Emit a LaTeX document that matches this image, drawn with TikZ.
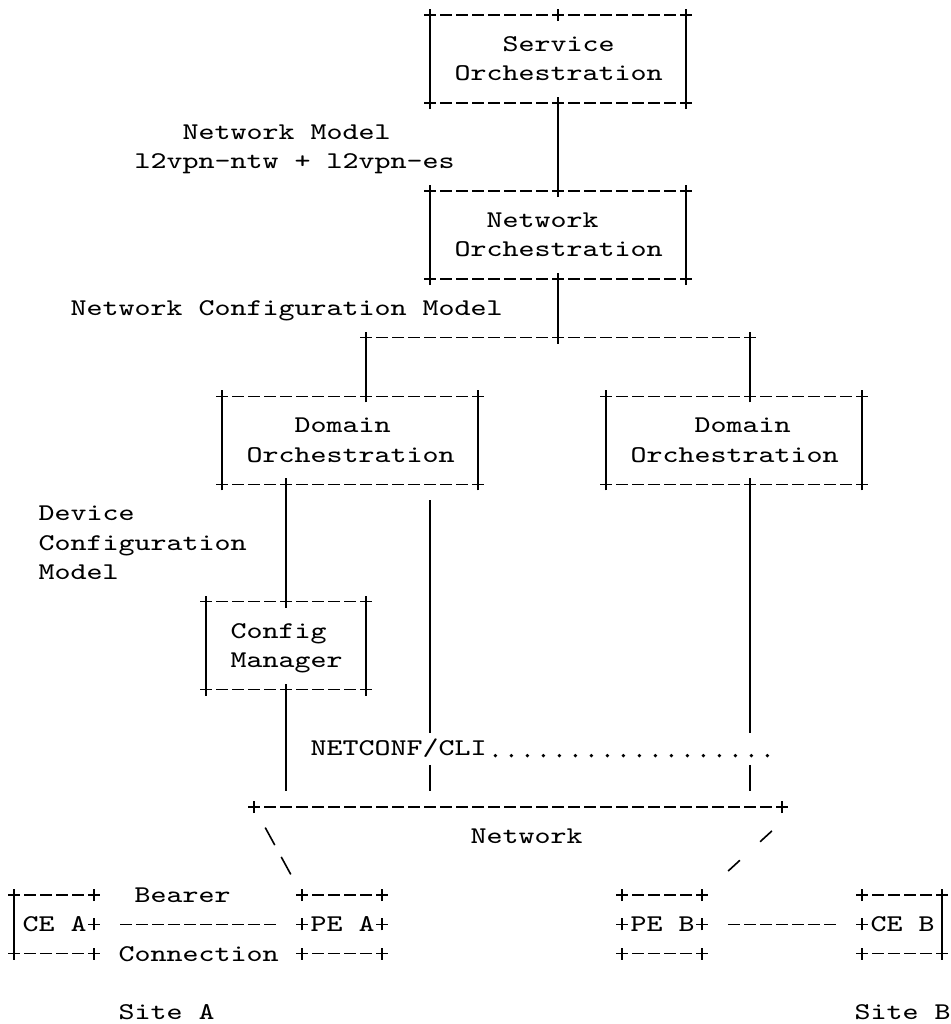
\documentclass[tikz,border=0pt]{standalone}
\usepackage{tikz}

\tikzset{
  boxshape/.style={rectangle, inner sep=0pt, outer sep=0pt},
  txt/.style={anchor=base west, inner sep=0pt, xscale=1.27, font=\ttfamily\fontsize{9}{11}\selectfont},
  edgeh/.style={line width=0.6pt, dash pattern=on 4.4pt off 1.6pt, dash phase=2.2pt},
  edgev/.style={line width=0.6pt},
  link/.style={line width=0.6pt, dash pattern=on 4.4pt off 1.6pt, dash phase=5.2pt, shorten <=9pt, shorten >=9pt},
  leader/.style={line width=1.4pt, line cap=round, dash pattern=on 0pt off 6pt, dash phase=3pt},
  bslash/.style={line width=0.6pt, dash pattern=on 7.5pt off 5.03pt, dash phase=8.75pt, shorten <=5pt, shorten >=5pt},
  fslash/.style={line width=0.6pt, dash pattern=on 6pt off 10.28pt, dash phase=11pt, shorten <=8pt, shorten >=8pt}
}
\newcommand{\asciibox}[1]{%
  \draw[edgeh] (#1.north west) -- (#1.north east) (#1.south west) -- (#1.south east);
  \draw[edgev] (#1.north west) -- (#1.south west) (#1.north east) -- (#1.south east);}
\newcommand{\asciiplus}[1]{%
  \draw[edgev] ([yshift=-2.3pt]#1) -- ([yshift=2.3pt]#1) ([xshift=-2.2pt]#1) -- ([xshift=2.2pt]#1);}

\begin{document}
\begin{tikzpicture}[x=6pt, y=-11pt]
	\useasboundingbox (-0.875,-0.511) rectangle (58.5,34.398);

	\node[boxshape, minimum width=96pt, minimum height=33pt] (svc) at (34,1.5) {};
	\node[boxshape, minimum width=96pt, minimum height=33pt] (ntw) at (34,7.5) {};
	\node[boxshape, minimum width=96pt, minimum height=33pt] (doml) at (21,14.5) {};
	\node[boxshape, minimum width=96pt, minimum height=33pt] (domr) at (45,14.5) {};
	\node[boxshape, minimum width=60pt, minimum height=33pt] (cfg) at (17,21.5) {};
	\node[boxshape, minimum width=198pt, minimum height=22pt] (net) at (31.5,28) {};
	\node[boxshape, minimum width=30pt, minimum height=22pt] (cea) at (2.5,31) {};
	\node[boxshape, minimum width=30pt, minimum height=22pt] (pea) at (20.5,31) {};
	\node[boxshape, minimum width=30pt, minimum height=22pt] (peb) at (40.5,31) {};
	\node[boxshape, minimum width=30pt, minimum height=22pt] (ceb) at (55.5,31) {};

	\node[txt] (lsvc1) at (30.5,1.25) {Service};
	\node[txt] (lsvc2) at (27.5,2.25) {Orchestration};
	\node[txt] (lmod1) at (10.5,4.25) {Network Model};
	\node[txt] (lmod2) at (7.5,5.25) {l2vpn-ntw + l2vpn-es};
	\node[txt] (lntw1) at (29.5,7.25) {Network};
	\node[txt] (lntw2) at (27.5,8.25) {Orchestration};
	\node[txt] (lncm) at (3.5,10.25) {Network Configuration Model};
	\node[txt] (ldl1) at (17.5,14.25) {Domain};
	\node[txt] (ldl2) at (14.5,15.25) {Orchestration};
	\node[txt] (ldr1) at (42.5,14.25) {Domain};
	\node[txt] (ldr2) at (38.5,15.25) {Orchestration};
	\node[txt] (ldev1) at (1.5,17.25) {Device};
	\node[txt] (ldev2) at (1.5,18.25) {Configuration};
	\node[txt] (ldev3) at (1.5,19.25) {Model};
	\node[txt] (lcfg1) at (13.5,21.25) {Config};
	\node[txt] (lcfg2) at (13.5,22.25) {Manager};
	\node[txt] (cli) at (18.5,25.25) {NETCONF/CLI};
	\node[txt] (lnet) at (28.5,28.25) {Network};
	\node[txt] (lbear1) at (7.5,30.25) {Bearer};
	\node[txt] (lbear2) at (6.5,32.25) {Connection};
	\node[txt] (lcea) at (0.5,31.25) {CE A};
	\node[txt] (lpea) at (18.5,31.25) {PE A};
	\node[txt] (lpeb) at (38.5,31.25) {PE B};
	\node[txt] (lceb) at (53.5,31.25) {CE B};
	\node[txt] (lsa) at (6.5,34.25) {Site A};
	\node[txt] (lsb) at (52.5,34.25) {Site B};

	\coordinate (split) at (34,11);
	\coordinate (splitl) at (22,11);
	\coordinate (splitr) at (46,11);
	\coordinate (jtl) at (splitl |- doml.north);
	\coordinate (jtr) at (splitr |- domr.north);
	\coordinate (jdl) at (cfg.north |- doml.south);
	\coordinate (jdr) at (splitr |- domr.south);
	\coordinate (tap) at (26,16);
	\coordinate (cliend) at (47.2,25.25);
	\coordinate (slashtop) at (49,27);

	\asciibox{svc}
	\asciibox{ntw}
	\asciibox{doml}
	\asciibox{domr}
	\asciibox{cfg}
	\foreach \b in {cea,pea,peb,ceb}
		\draw[edgeh] (\b.north west) -- (\b.north east) (\b.south west) -- (\b.south east);
	\draw[edgev] (cea.north west) -- (cea.south west) (ceb.north east) -- (ceb.south east);
	\draw[edgeh] (net.north west) -- (net.north east);

	\draw[edgev] (svc.south) -- (ntw.north);
	\draw[edgev] (ntw.south) -- (split);
	\draw[edgeh] (splitl) -- (splitr);
	\draw[edgev] (splitl) -- (jtl);
	\draw[edgev] (splitr) -- (jtr);
	\draw[edgev] (jdl) -- (cfg.north);
	\draw[edgev, shorten >=6pt] (cfg.south) -- (cfg.south |- net.north);
	\draw[edgev, shorten <=6pt, shorten >=8.5pt] (tap) -- (tap |- cli.base);
	\draw[edgev, shorten <=3.5pt, shorten >=6pt] (tap |- cli.base) -- (tap |- net.north);
	\draw[edgev, shorten >=8.5pt] (jdr) -- (jdr |- cli.base);
	\draw[edgev, shorten <=3.5pt, shorten >=6pt] (jdr |- cli.base) -- (jdr |- net.north);
	\draw[leader] (cli.base east) -- (cliend);
	\draw[bslash] (net.north west) -- (pea.north west);
	\draw[fslash] (slashtop) -- (peb.north east);
	\draw[link] (cea.east) -- (pea.west);
	\draw[link] (peb.east) -- (ceb.west);

	\foreach \b in {svc,ntw,doml,domr,cfg,cea,pea,peb,ceb}
		\foreach \a in {north west,north east,south west,south east}
			{\asciiplus{\b.\a}}
	\foreach \p in {svc.north,svc.south,ntw.north,ntw.south,cfg.north,cfg.south,
			split,splitl,splitr,jtl,jtr,jdl,jdr,net.north west,net.north east,
			cea.east,pea.west,pea.east,peb.west,peb.east,ceb.west}
		{\asciiplus{\p}}
\end{tikzpicture}
\end{document}
